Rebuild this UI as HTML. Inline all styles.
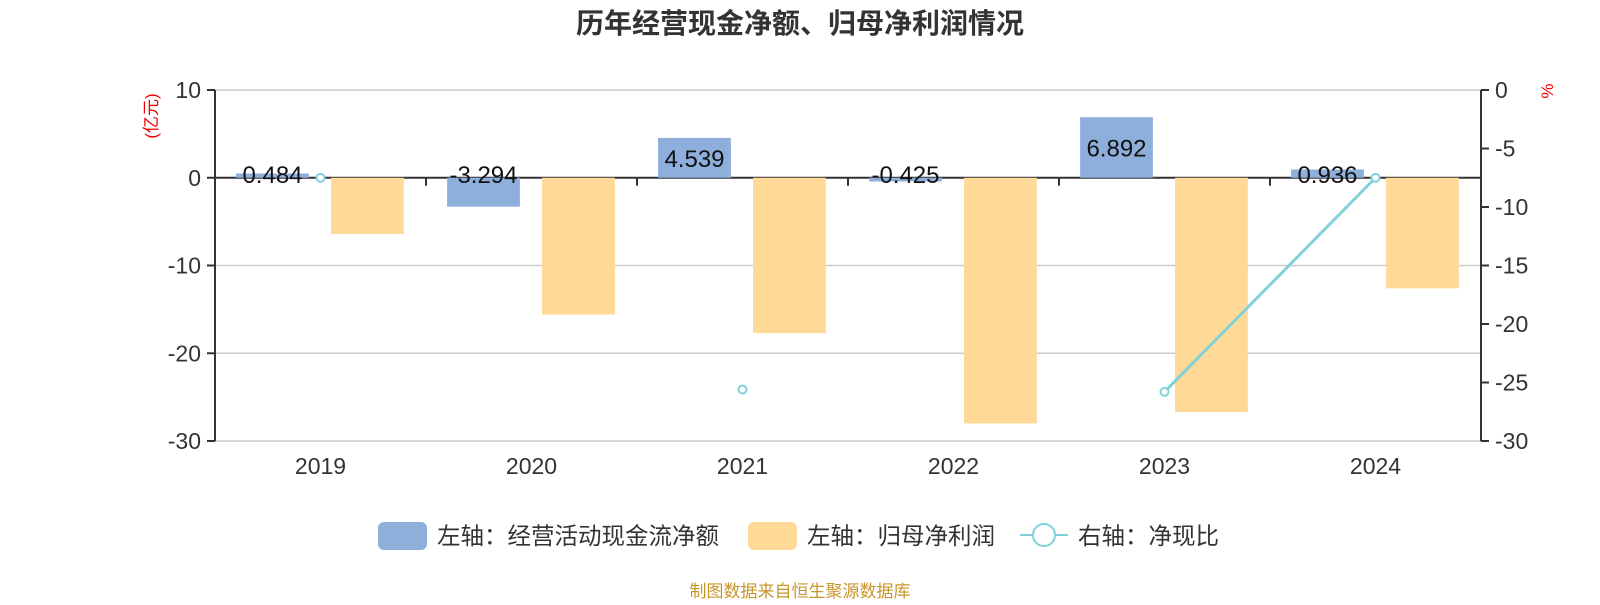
<!DOCTYPE html>
<html><head><meta charset="utf-8"><style>
body{margin:0;background:#fff;width:1600px;height:600px;overflow:hidden;font-family:"Liberation Sans","Noto Sans CJK SC",sans-serif}
</style></head><body>
<svg id="c" width="1600" height="600" xmlns="http://www.w3.org/2000/svg" font-family="Liberation Sans, Noto Sans CJK SC, sans-serif">
<text x="800" y="33" text-anchor="middle" font-size="28" font-weight="bold" fill="#333">历年经营现金净额、归母净利润情况</text>
<text transform="translate(157,116) rotate(-90)" text-anchor="middle" font-size="17" fill="#e00">(亿元)</text>
<text transform="translate(1553,91) rotate(-90)" text-anchor="middle" font-size="17" fill="#e00">%</text>
<g id="g"></g>
<g>
<rect x="378" y="522" width="49" height="28" rx="6" fill="#8eaedc"/>
<text x="437" y="544" font-size="23.5" fill="#333">左轴：经营活动现金流净额</text>
<rect x="748" y="522" width="49" height="28" rx="6" fill="#ffd998"/>
<text x="807" y="544" font-size="23.5" fill="#333">左轴：归母净利润</text>
<line x1="1020" y1="535" x2="1068" y2="535" stroke="#7fd3d8" stroke-width="2"/>
<circle cx="1044" cy="535" r="11" fill="#fff" stroke="#7fd3d8" stroke-width="2"/>
<text x="1078" y="544" font-size="23.5" fill="#333">右轴：净现比</text>
</g>
<text x="800" y="597" text-anchor="middle" font-size="17" fill="#c8962a">制图数据来自恒生聚源数据库</text>
</svg>
<script>
const categories=["2019","2020","2021","2022","2023","2024"];
const cashFlow=[0.484,-3.294,4.539,-0.425,6.892,0.936];
const netProfit=[-6.4,-15.6,-17.7,-28.0,-26.7,-12.6];
const ratio=[-7.5,null,-25.6,null,-25.8,-7.5];
const leftTicks=[10,0,-10,-20,-30];
const rightTicks=[0,-5,-10,-15,-20,-25,-30];
const NS="http://www.w3.org/2000/svg";
const g=document.getElementById('g');
const X0=215,X1=1481,Y0=90,Y1=441;
const bw=(X1-X0)/categories.length;
const yL=v=>Y0+(10-v)/40*(Y1-Y0);
const yR=v=>Y0+(0-v)/30*(Y1-Y0);
function mk(t,a){const e=document.createElementNS(NS,t);for(const k in a)e.setAttribute(k,a[k]);g.appendChild(e);return e;}
leftTicks.forEach(t=>{
 const y=yL(t);
 const l=mk('line',{x1:X0,x2:X1,y1:y,y2:y,stroke:t===0?'#333':'#ccc','stroke-width':t===0?2:1.5});
 
 
 const k=mk('line',{x1:X0-8,x2:X0,y1:y,y2:y,stroke:'#333','stroke-width':2});
 
 
 const tx=mk('text',{x:X0-14,y:y+8,'text-anchor':'end','font-size':23,fill:'#333'});tx.textContent=t;
 
 
});
rightTicks.forEach(t=>{
 const y=yR(t);
 const k=mk('line',{x1:X1,x2:X1+8,y1:y,y2:y,stroke:'#333','stroke-width':2});
 
 
 const tx=mk('text',{x:X1+14,y:y+8,'font-size':23,fill:'#333'});tx.textContent=t;
 
 
});
let a=mk('line',{x1:X0,x2:X0,y1:Y0,y2:Y1,stroke:'#333','stroke-width':2});


a=mk('line',{x1:X1,x2:X1,y1:Y0,y2:Y1,stroke:'#333','stroke-width':2});


const z=yL(0);
categories.forEach((c,i)=>{
 const b0=X0+i*bw;
 if(i>0){const k=mk('line',{x1:b0,x2:b0,y1:z,y2:z+8,stroke:'#333','stroke-width':2});
 
 }
 const tx=mk('text',{x:b0+bw/2,y:Y1+33,'text-anchor':'middle','font-size':23,fill:'#333'});tx.textContent=c;
 
 
 let v=netProfit[i];
 let r=mk('rect',{x:b0+bw*0.55,y:Math.min(yL(v),z),width:bw*0.345,height:Math.abs(yL(v)-z),fill:'#ffd998'});
 
 
 v=cashFlow[i];
 r=mk('rect',{x:b0+bw*0.1,y:Math.min(yL(v),z),width:bw*0.345,height:Math.max(Math.abs(yL(v)-z),3),fill:'#8eaedc'});
 
 
 const ly=(yL(v)+z)/2+9;
 const lt=mk('text',{x:b0+bw*0.1+bw*0.345/2,y:Math.abs(yL(v)-z)<30?z+5:ly,'text-anchor':'middle','font-size':24,fill:'#111'});lt.textContent=v;
 
 
});
let seg=[];
ratio.forEach((v,i)=>{
 if(v===null){seg=[];return;}
 const cx=X0+i*bw+bw/2;
 seg.push([cx,yR(v)]);
 if(seg.length>1){const p=seg[seg.length-2];const l=mk('line',{x1:p[0],y1:p[1],x2:cx,y2:yR(v),stroke:'#7fd3d8','stroke-width':3});
 
 }
});
ratio.forEach((v,i)=>{
 if(v===null)return;
 const p=mk('circle',{cx:X0+i*bw+bw/2,cy:yR(v),r:4,fill:'#fff',stroke:'#7fd3d8','stroke-width':2});
 
 
});
</script>
</body></html>
